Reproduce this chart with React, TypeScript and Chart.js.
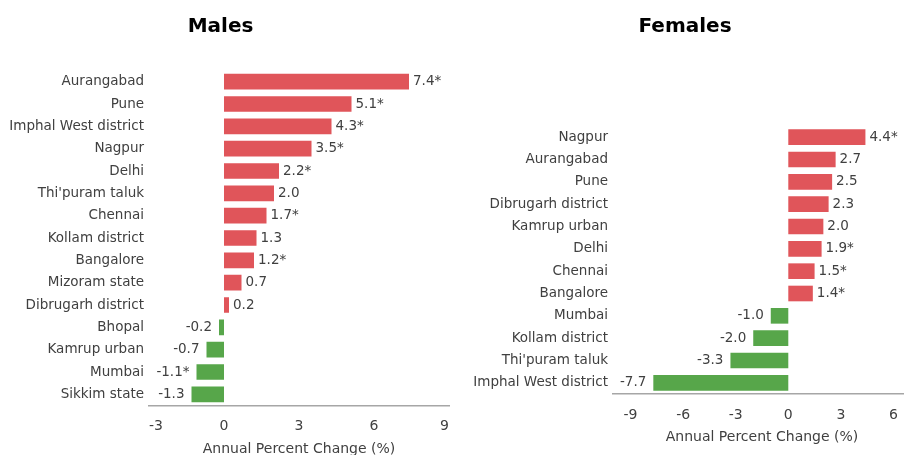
import React, { useEffect, useRef } from 'react';
import { Chart, registerables } from 'chart.js';

Chart.register(...registerables);

// ---------- data ----------
const malesCities = [
  'Aurangabad',
  'Pune',
  'Imphal West district',
  'Nagpur',
  'Delhi',
  "Thi'puram taluk",
  'Chennai',
  'Kollam district',
  'Bangalore',
  'Mizoram state',
  'Dibrugarh district',
  'Bhopal',
  'Kamrup urban',
  'Mumbai',
  'Sikkim state',
];
const malesAPC = [7.4, 5.1, 4.3, 3.5, 2.2, 2.0, 1.7, 1.3, 1.2, 0.7, 0.2, -0.2, -0.7, -1.1, -1.3];
const malesSignificant = [true, true, true, true, true, false, true, false, true, false, false, false, false, true, false];

const femalesCities = [
  'Nagpur',
  'Aurangabad',
  'Pune',
  'Dibrugarh district',
  'Kamrup urban',
  'Delhi',
  'Chennai',
  'Bangalore',
  'Mumbai',
  'Kollam district',
  "Thi'puram taluk",
  'Imphal West district',
];
const femalesAPC = [4.4, 2.7, 2.5, 2.3, 2.0, 1.9, 1.5, 1.4, -1.0, -2.0, -3.3, -7.7];
const femalesSignificant = [true, false, false, false, false, true, true, true, false, false, false, false];

const malesTicks = [-3, 0, 3, 6, 9];
const femalesTicks = [-9, -6, -3, 0, 3, 6];

const axisTitle = 'Annual Percent Change (%)';

// ---------- style ----------
const FONT = "'DejaVu Sans', sans-serif";
const RED = '#E0555A';
const GREEN = '#57A64A';
const TEXT = '#404040';
const AXIS = '#A6A6A6';

const panelTitle = {
  id: 'panelTitle',
  afterDraw(chart: any, _args: any, opts: any) {
    const ctx = chart.ctx;
    ctx.save();
    ctx.font = `bold 20px ${FONT}`;
    ctx.fillStyle = '#000000';
    ctx.textAlign = 'center';
    ctx.textBaseline = 'alphabetic';
    ctx.fillText(opts.text, opts.x, opts.y);
    ctx.restore();
  },
};

const barLabels = {
  id: 'barLabels',
  afterDatasetsDraw(chart: any, _args: any, opts: any) {
    const ctx = chart.ctx;
    const meta = chart.getDatasetMeta(0);
    const data = chart.data.datasets[0].data as number[];
    ctx.save();
    ctx.font = `13.5px ${FONT}`;
    ctx.fillStyle = TEXT;
    ctx.textBaseline = 'middle';
    meta.data.forEach((bar: any, i: number) => {
      const v = data[i];
      const label = v.toFixed(1) + (opts.sig[i] ? '*' : '');
      if (v >= 0) {
        ctx.textAlign = 'left';
        ctx.fillText(label, bar.x + 4, bar.y);
      } else {
        ctx.textAlign = 'right';
        ctx.fillText(label, bar.x - 7, bar.y);
      }
    });
    ctx.restore();
  },
};

type Panel = {
  title: string;
  titleX: number;
  cities: string[];
  values: number[];
  sig: boolean[];
  ticks: number[];
  tickAlign: string;
  min: number;
  max: number;
  padding: { left: number; right: number; top: number; bottom: number };
  yWidth: number;
  xHeight: number;
  tickPad: number;
  titlePadBottom: number;
};

function buildConfig(p: Panel): any {
  return {
    type: 'bar',
    data: {
      labels: p.cities,
      datasets: [
        {
          data: p.values,
          backgroundColor: p.values.map((v) => (v >= 0 ? RED : GREEN)),
          borderWidth: 0,
          barPercentage: 0.7,
          categoryPercentage: 1,
        },
      ],
    },
    plugins: [panelTitle, barLabels],
    options: {
      indexAxis: 'y',
      responsive: false,
      animation: false,
      layout: { padding: p.padding },
      plugins: {
        legend: { display: false },
        tooltip: { enabled: false },
        title: { display: false },
        panelTitle: { text: p.title, x: p.titleX, y: 32 },
        barLabels: { sig: p.sig },
      },
      scales: {
        x: {
          type: 'linear',
          min: p.min,
          max: p.max,
          grid: { display: false, drawTicks: false },
          border: { display: true, color: AXIS, width: 1.5 },
          ticks: {
            font: { family: FONT, size: 14 },
            color: TEXT,
            padding: p.tickPad,
            maxRotation: 0,
            align: p.tickAlign,
          },
          afterBuildTicks: (s: any) => {
            s.ticks = p.ticks.map((v) => ({ value: v }));
          },
          afterFit: (s: any) => {
            s.height = p.xHeight;
            s.paddingLeft = 0;
            s.paddingRight = 0;
          },
          title: {
            display: true,
            text: axisTitle,
            font: { family: FONT, size: 14 },
            color: TEXT,
            padding: { top: 0, bottom: p.titlePadBottom },
          },
        },
        y: {
          grid: { display: false, drawTicks: false },
          border: { display: false },
          ticks: {
            font: { family: FONT, size: 13.5 },
            color: TEXT,
            padding: 5,
            autoSkip: false,
          },
          afterFit: (s: any) => {
            s.width = p.yWidth;
            s.paddingTop = 0;
            s.paddingBottom = 0;
          },
        },
      },
    },
  };
}

function ChartPanel({ panel, left, width }: { panel: Panel; left: number; width: number }) {
  const ref = useRef<HTMLCanvasElement | null>(null);
  useEffect(() => {
    if (!ref.current) return;
    const chart = new Chart(ref.current, buildConfig(panel));
    return () => chart.destroy();
  }, [panel]);
  return (
    <canvas
      ref={ref}
      width={width}
      height={455}
      style={{ position: 'absolute', left, top: 0, width, height: 455 }}
    />
  );
}

const malesPanel: Panel = {
  title: 'Males',
  titleX: 220.5,
  cities: malesCities,
  values: malesAPC,
  sig: malesSignificant,
  ticks: malesTicks,
  tickAlign: 'inner',
  min: -3,
  max: 9,
  padding: { left: 0, right: 11, top: 70.5, bottom: 0 },
  yWidth: 149,
  xHeight: 49.5,
  tickPad: 12,
  titlePadBottom: -3,
};

const femalesPanel: Panel = {
  title: 'Females',
  titleX: 233,
  cities: femalesCities,
  values: femalesAPC,
  sig: femalesSignificant,
  ticks: femalesTicks,
  tickAlign: 'center',
  min: -10,
  max: 7,
  padding: { left: 0, right: 11, top: 126, bottom: 9 },
  yWidth: 161,
  xHeight: 52,
  tickPad: 13,
  titlePadBottom: 0,
};

export default function App() {
  return (
    <div
      style={{
        position: 'fixed',
        left: 0,
        top: 0,
        width: 904,
        height: 455,
        overflow: 'hidden',
        background: '#ffffff',
      }}
    >
      <ChartPanel panel={malesPanel} left={0} width={460} />
      <ChartPanel panel={femalesPanel} left={452} width={470} />
    </div>
  );
}
